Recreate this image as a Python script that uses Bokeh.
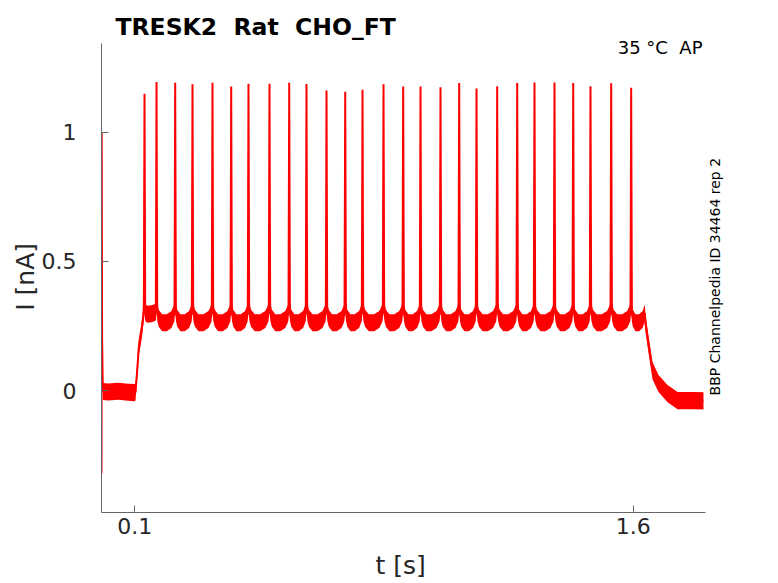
import math
from bokeh.plotting import figure
from bokeh.models import Range1d, Label, FixedTicker, LinearAxis
from bokeh.embed import file_html
from bokeh.resources import INLINE

title_text = "TRESK2 \u00a0Rat \u00a0CHO_FT"
cond_text = "35 °C \u00a0AP"
side_text = "BBP Channelpedia ID 34464 rep 2"
x_label = "t [s]"
y_label = "I [nA]"
x_ticks = [0.1, 1.6]
y_ticks = [0, 0.5, 1]
x_axis_span = (0, 1.817)
y_axis_span = (-0.472, 1.343)

# capacitive transient at t = 0
transient_t = [0.0, 0.0006, 0.0018, 0.004]
transient_i = [-0.32, 1.0, 0.2, 0.0]

# holding current before the step
baseline_t = [0.004, 0.02, 0.05, 0.08, 0.1]
baseline_i = [-0.004, -0.006, -0.003, -0.007, -0.008]

# step onset
step_on_t = [0.1023, 0.1074, 0.1122, 0.1194, 0.1262]
step_on_i = [-0.005, 0.077, 0.168, 0.22, 0.29]

# action-potential-like spikes
spike_t = [0.1294, 0.1655, 0.2217, 0.2738, 0.3339, 0.3902, 0.4422, 0.5054,
           0.5647, 0.6167, 0.6769, 0.7332, 0.7852, 0.8484, 0.9076, 0.9597,
           1.0199, 1.0761, 1.1282, 1.1904, 1.2506, 1.3026, 1.3628, 1.4191,
           1.4711, 1.5334, 1.5935]
spike_peak = [1.149, 1.194, 1.191, 1.185, 1.191, 1.177, 1.187, 1.187,
              1.191, 1.186, 1.161, 1.156, 1.164, 1.185, 1.177, 1.177,
              1.174, 1.190, 1.169, 1.178, 1.190, 1.192, 1.192, 1.190,
              1.178, 1.189, 1.172]
spike_base = 0.335

# inter-spike current (read at fractions of each interval)
isi_frac = [0.05, 0.12, 0.3, 0.55, 0.8, 0.95]
isi_i = [0.300, 0.280, 0.262, 0.262, 0.275, 0.300]
first_isi_i = [0.305, 0.298, 0.295, 0.297, 0.300, 0.305]

# step offset and return to holding current
step_off_t = [1.6366, 1.6456, 1.6576, 1.6757, 1.703, 1.733, 1.781, 1.811]
step_off_i = [0.26, 0.18, 0.077, 0.027, -0.012, -0.039, -0.039, -0.04]

noise_half = 0.033

# ---- assemble trace from the values above ----
base_t = list(baseline_t) + list(step_on_t)
base_i = list(baseline_i) + list(step_on_i)
line_t = list(transient_t) + list(baseline_t) + list(step_on_t)
line_i = list(transient_i) + list(baseline_i) + list(step_on_i)
n = len(spike_t)
for k in range(n):
    ts = spike_t[k]
    nxt = spike_t[k + 1] if k + 1 < n else step_off_t[0]
    line_t += [ts - 0.002, ts, ts + 0.002]
    line_i += [spike_base, spike_peak[k], spike_base]
    base_t.append(ts)
    base_i.append(spike_base)
    shape = first_isi_i if k == 0 else isi_i
    for f, v in zip(isi_frac, shape):
        t = ts + f * (nxt - ts)
        line_t.append(t); line_i.append(v)
        base_t.append(t); base_i.append(v)
line_t += step_off_t
line_i += step_off_i
base_t += step_off_t
base_i += step_off_i

lo = [v - noise_half for v in base_i]
hi = [v + noise_half for v in base_i]

p = figure(width=778, height=583,
           x_range=Range1d(0, 2.0367), y_range=Range1d(-0.472, 1.5094),
           output_backend="svg", toolbar_location=None,
           min_border_left=101, min_border_right=0,
           min_border_top=0, min_border_bottom=71)
p.outline_line_color = None
p.grid.visible = False
p.background_fill_color = "white"
p.border_fill_color = "white"

p.varea(x=base_t, y1=lo, y2=hi, fill_color="#ff0000", fill_alpha=1.0)
p.line(line_t, line_i, line_color="#ff0000", line_width=2)

for ax in (p.xaxis[0], p.yaxis[0]):
    ax.axis_line_color = "#666666"
    ax.major_tick_line_color = "#666666"
    ax.major_tick_in = 7
    ax.major_tick_out = 0
    ax.minor_tick_line_color = None
    ax.major_label_text_font = "DejaVu Sans"
    ax.major_label_text_font_size = "22px"
    ax.major_label_text_color = "#262626"

p.xaxis.bounds = x_axis_span
p.yaxis.bounds = y_axis_span
p.xaxis.ticker = FixedTicker(ticks=x_ticks)
p.yaxis.ticker = FixedTicker(ticks=y_ticks)
p.xaxis.major_label_overrides = {0.1: "0.1", 1.6: "1.6"}
p.yaxis.major_label_overrides = {0: "0", 0.5: "0.5", 1: "1"}
p.xaxis.major_label_standoff = 5
p.yaxis.major_label_standoff = 25


def title_axis(ticks, text, side):
    ax = LinearAxis(ticker=FixedTicker(ticks=ticks),
                    major_label_overrides={ticks[0]: text},
                    axis_line_color=None, major_tick_line_color=None,
                    minor_tick_line_color=None,
                    major_tick_in=0, major_tick_out=0,
                    major_label_text_font="DejaVu Sans",
                    major_label_text_font_size="25px",
                    major_label_text_color="#262626")
    p.add_layout(ax, side)
    return ax


xl = title_axis([0.9], x_label, "below")
xl.major_label_standoff = 14
yl = title_axis([0.44], y_label, "left")
yl.major_label_orientation = "vertical"
yl.major_label_standoff = -2

p.add_layout(Label(x=0.0421, y=1.406, text=title_text, text_font="DejaVu Sans",
                   text_font_style="bold", text_font_size="23.5px",
                   text_color="black", text_align="left",
                   text_baseline="alphabetic"))
p.add_layout(Label(x=1.808, y=1.3263, text=cond_text, text_font="DejaVu Sans",
                   text_font_size="18px", text_color="black",
                   text_align="right", text_baseline="alphabetic"))
p.add_layout(Label(x=1.8457, y=-0.019, text=side_text, text_font="DejaVu Sans",
                   text_font_size="14px", text_color="black", angle=math.pi / 2,
                   text_align="left", text_baseline="alphabetic"))

open("out.html", "w").write(file_html(p, INLINE))
